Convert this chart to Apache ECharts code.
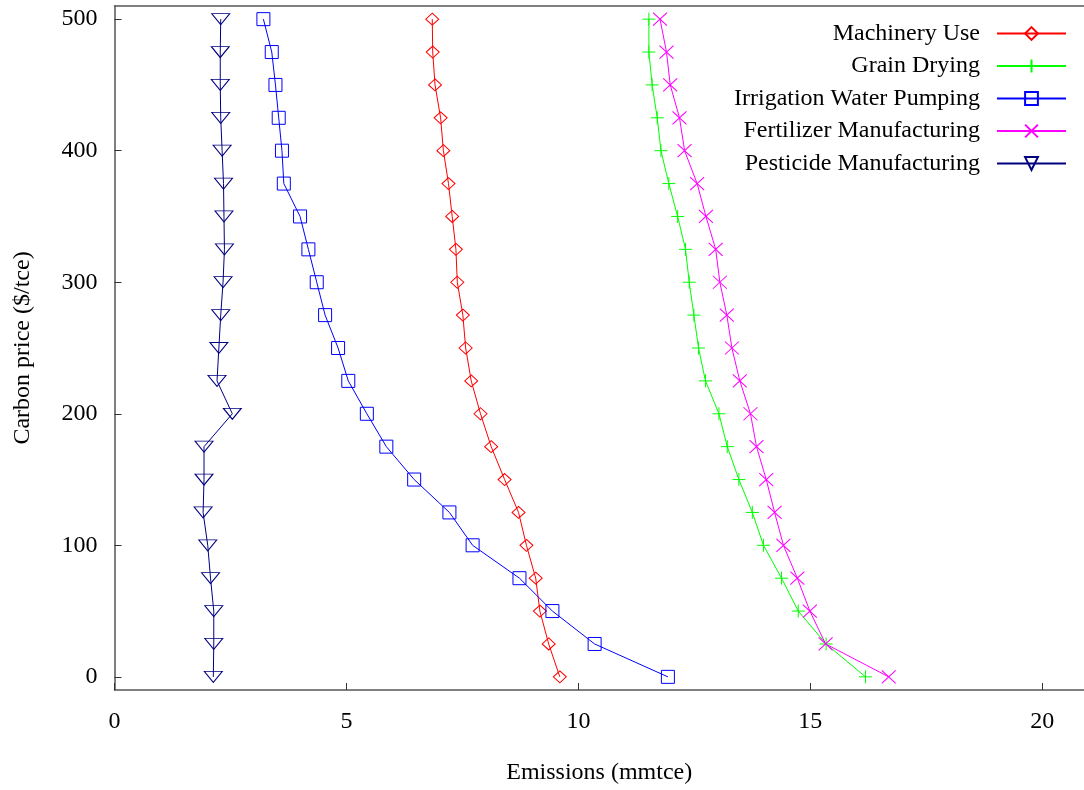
<!DOCTYPE html>
<html>
<head>
<meta charset="utf-8">
<script src="https://cdn.jsdelivr.net/npm/echarts@6/dist/echarts.min.js"></script>
<style>
html,body{margin:0;padding:0;background:#fff;}
#chart{width:1084px;height:790px;}
</style>
</head>
<body>
<div id="chart"></div>
<script>
// Carbon price levels ($/tce)
const carbonPrice = [0, 25, 50, 75, 100, 125, 150, 175, 200, 225, 250, 275, 300, 325, 350, 375, 400, 425, 450, 475, 500];
// Emissions (mmtce) at each carbon price
const machineryUse = [9.60, 9.36, 9.17, 9.08, 8.88, 8.71, 8.41, 8.12, 7.89, 7.69, 7.57, 7.51, 7.39, 7.36, 7.28, 7.20, 7.09, 7.03, 6.91, 6.86, 6.85];
const grainDrying = [16.19, 15.34, 14.74, 14.38, 13.99, 13.75, 13.46, 13.21, 13.03, 12.74, 12.59, 12.49, 12.39, 12.31, 12.14, 11.95, 11.78, 11.70, 11.59, 11.52, 11.52];
const irrigationPumping = [11.93, 10.35, 9.44, 8.73, 7.72, 7.22, 6.46, 5.86, 5.44, 5.04, 4.82, 4.54, 4.36, 4.18, 4.00, 3.65, 3.61, 3.54, 3.47, 3.39, 3.21];
const fertilizerMfg = [16.69, 15.33, 14.99, 14.72, 14.42, 14.23, 14.05, 13.84, 13.71, 13.48, 13.31, 13.20, 13.05, 12.96, 12.75, 12.56, 12.29, 12.18, 11.98, 11.90, 11.76];
const pesticideMfg = [2.13, 2.14, 2.14, 2.07, 2.01, 1.91, 1.93, 1.93, 2.54, 2.21, 2.25, 2.29, 2.34, 2.37, 2.36, 2.35, 2.32, 2.29, 2.28, 2.28, 2.29];
const seriesNames = ['Machinery Use', 'Grain Drying', 'Irrigation Water Pumping', 'Fertilizer Manufacturing', 'Pesticide Manufacturing'];
const xTicks = [0, 5, 10, 15, 20];
const yTicks = [0, 100, 200, 300, 400, 500];

const FONT = 'Liberation Serif';
const AXIS_COLOR = '#555';

function pairs(vals) {
  return vals.map((v, i) => [v, carbonPrice[i]]);
}
function mk(name, vals, color, symbol, size) {
  return {
    name: name,
    type: 'line',
    data: pairs(vals),
    symbol: symbol,
    symbolSize: size,
    showSymbol: true,
    lineStyle: { color: color, width: 1 },
    itemStyle: { color: 'rgba(0,0,0,0)', borderColor: color, borderWidth: 1 },
    emphasis: { disabled: true },
    z: 2
  };
}

const chart = echarts.init(document.getElementById('chart'), null, { renderer: 'canvas' });
chart.setOption({
  animation: false,
  backgroundColor: '#fff',
  grid: {
    left: 114.5, top: 6, right: 0, bottom: 100,
    show: false
  },
  legend: {
    data: seriesNames,
    orient: 'vertical',
    right: 12,
    top: 16.5,
    align: 'right',
    itemWidth: 69,
    itemHeight: 16,
    itemGap: 8.5,
    textStyle: { fontFamily: FONT, fontSize: 24, color: '#000', lineHeight: 24, padding: [0, 12, 0, 0] }
  },
  xAxis: [{
    type: 'value',
    min: 0,
    max: 20.9,
    name: 'Emissions (mmtce)',
    nameLocation: 'middle',
    nameGap: 71,
    nameTextStyle: { fontFamily: FONT, fontSize: 24, color: '#000' },
    axisLine: { show: true, onZero: false, lineStyle: { color: AXIS_COLOR, width: 1.5 } },
    axisTick: { show: true, inside: true, length: 7, customValues: xTicks, lineStyle: { color: '#333' } },
    axisLabel: { customValues: xTicks, margin: 20, fontFamily: FONT, fontSize: 24, color: '#000' },
    splitLine: { show: false }
  }, {
    type: 'value',
    position: 'top',
    min: 0,
    max: 20.9,
    axisLine: { show: true, onZero: false, lineStyle: { color: AXIS_COLOR, width: 1.5 } },
    axisTick: { show: false },
    axisLabel: { show: false },
    splitLine: { show: false }
  }],
  yAxis: {
    type: 'value',
    min: -10,
    max: 510,
    name: 'Carbon price ($/tce)',
    nameLocation: 'middle',
    nameGap: 80,
    nameTextStyle: { fontFamily: FONT, fontSize: 24, color: '#000' },
    axisLine: { show: true, onZero: false, lineStyle: { color: AXIS_COLOR, width: 1.5 } },
    axisTick: { show: true, inside: true, length: 7, customValues: yTicks, lineStyle: { color: '#333' } },
    axisLabel: { customValues: yTicks, margin: 17, fontFamily: FONT, fontSize: 24, color: '#000' },
    splitLine: { show: false }
  },
  series: [
    mk(seriesNames[0], machineryUse, '#ff0000', 'path://M5,0L10,5L5,10L0,5Z', [13, 12]),
    mk(seriesNames[1], grainDrying, '#00ff00', 'path://M5,0L5,10M0,5L10,5', [13, 13]),
    mk(seriesNames[2], irrigationPumping, '#0000ff', 'path://M0,0L10,0L10,10L0,10Z', [13, 13]),
    mk(seriesNames[3], fertilizerMfg, '#ff00ff', 'path://M0,0L10,10M10,0L0,10', [14, 13]),
    mk(seriesNames[4], pesticideMfg, '#000080', 'path://M0,0L18,0L9,11Z', [18, 11])
  ]
});
</script>
</body>
</html>
